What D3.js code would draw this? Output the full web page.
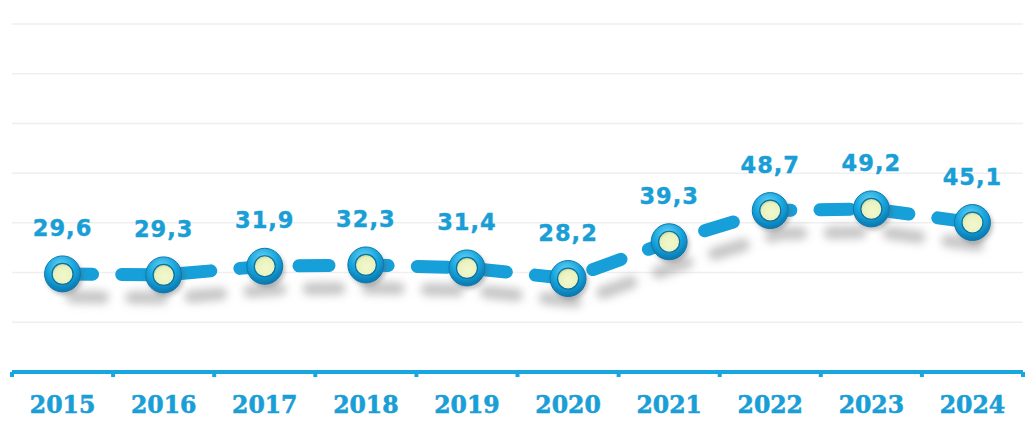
<!DOCTYPE html>
<html>
<head>
<meta charset="utf-8">
<script src="https://cdn.jsdelivr.net/npm/d3@7"></script>
<style>
  html, body { margin: 0; padding: 0; background: #fff; }
  svg { display: block; }
</style>
</head>
<body>
<svg id="chart" width="1036" height="430"></svg>
<script>
const categories = ["2015","2016","2017","2018","2019","2020","2021","2022","2023","2024"];
const values = [29.6, 29.3, 31.9, 32.3, 31.4, 28.2, 39.3, 48.7, 49.2, 45.1];
const valueLabels = ["29,6","29,3","31,9","32,3","31,4","28,2","39,3","48,7","49,2","45,1"];
const gridTicks = [15, 30, 45, 60, 75, 90, 105];

(function () {
const svg = d3.select("#chart");
const padL = 12, padR = 1023, padT = 24, padB = 372;

const x = d3.scaleBand().domain(categories).range([padL, padR]).padding(0);
const y = d3.scaleLinear().domain([0, 105]).range([padB, padT]);
const cx = d => x(d) + x.bandwidth() / 2;

const defs = svg.append("defs");
const sh = defs.append("filter").attr("id", "shadow")
  .attr("x", "-10%").attr("y", "-50%").attr("width", "130%").attr("height", "250%");
sh.append("feGaussianBlur").attr("in", "SourceAlpha").attr("stdDeviation", 4.5).attr("result", "b");
sh.append("feOffset").attr("in", "b").attr("dx", 10).attr("dy", 23).attr("result", "o");
sh.append("feFlood").attr("flood-color", "#8f8f8f").attr("flood-opacity", 0.5).attr("result", "c");
sh.append("feComposite").attr("in", "c").attr("in2", "o").attr("operator", "in").attr("result", "s");
const mg = sh.append("feMerge");
mg.append("feMergeNode").attr("in", "s");
mg.append("feMergeNode").attr("in", "SourceGraphic");

const csh = defs.append("filter").attr("id", "cshadow")
  .attr("x", "-50%").attr("y", "-50%").attr("width", "200%").attr("height", "200%");
csh.append("feDropShadow").attr("dx", 2).attr("dy", 3).attr("stdDeviation", 2)
  .attr("flood-color", "#555").attr("flood-opacity", 0.35);

const rg = defs.append("radialGradient").attr("id", "ring")
  .attr("cx", "45%").attr("cy", "30%").attr("r", "70%");
rg.append("stop").attr("offset", "0%").attr("stop-color", "#6ad4f6");
rg.append("stop").attr("offset", "55%").attr("stop-color", "#18a6de");
rg.append("stop").attr("offset", "100%").attr("stop-color", "#0a76ad");

const ig = defs.append("radialGradient").attr("id", "inner")
  .attr("cx", "55%").attr("cy", "60%").attr("r", "60%");
ig.append("stop").attr("offset", "0%").attr("stop-color", "#f2f8cf");
ig.append("stop").attr("offset", "75%").attr("stop-color", "#e9f2bd");
ig.append("stop").attr("offset", "100%").attr("stop-color", "#c4d69c");

// gridlines
svg.append("g").selectAll("line").data(gridTicks).join("line")
  .attr("x1", padL).attr("x2", padR)
  .attr("y1", d => y(d)).attr("y2", d => y(d))
  .attr("stroke", "#efefef").attr("stroke-width", 1.5);

// x axis
const xAxis = d3.axisBottom(x).tickSize(0).tickFormat(d => d);
const ax = svg.append("g").attr("transform", `translate(0,${padB})`).call(xAxis);
ax.select(".domain").remove();
ax.selectAll("text")
  .attr("dy", null).attr("y", 41)
  .attr("fill", "#1a9ed6")
  .attr("stroke", "#1a9ed6").attr("stroke-width", 0.6)
  .style("font-family", "'DejaVu Serif', serif")
  .style("font-weight", "bold")
  .style("font-size", "23.5px");

svg.append("line").attr("x1", padL).attr("x2", padR)
  .attr("y1", padB).attr("y2", padB)
  .attr("stroke", "#18a6e0").attr("stroke-width", 4);
const bounds = categories.map(c => x(c)).concat([x(categories[categories.length - 1]) + x.bandwidth()]);
svg.append("g").selectAll("line").data(bounds).join("line")
  .attr("x1", d => d).attr("x2", d => d)
  .attr("y1", padB).attr("y2", padB + 5)
  .attr("stroke", "#18a6e0").attr("stroke-width", 4);

// series
const g = svg.append("g");
const line = d3.line().x((d, i) => cx(categories[i])).y(d => y(d));
g.append("path").datum(values)
  .attr("d", line)
  .attr("filter", "url(#shadow)")
  .attr("fill", "none")
  .attr("stroke", "#139fd8")
  .attr("stroke-width", 13)
  .attr("stroke-linecap", "round")
  .attr("stroke-dasharray", "30 29.2");

const pts = g.selectAll("g.pt").data(values).join("g").attr("class", "pt")
  .attr("filter", "url(#cshadow)")
  .attr("transform", (d, i) => `translate(${cx(categories[i])},${y(d)})`);
pts.append("circle").attr("r", 18).attr("fill", "url(#ring)")
  .attr("stroke", "#0b78ad").attr("stroke-width", 1);
pts.append("circle").attr("r", 10.5).attr("fill", "url(#inner)")
  .attr("stroke", "#0a6f9f").attr("stroke-width", 1.2);

// value labels
svg.append("g").selectAll("text").data(values).join("text")
  .attr("x", (d, i) => cx(categories[i]))
  .attr("y", d => y(d) - 38)
  .attr("text-anchor", "middle")
  .attr("fill", "#1a9ed6")
  .attr("stroke", "#1a9ed6").attr("stroke-width", 0.4)
  .style("font-family", "'DejaVu Sans', sans-serif")
  .style("font-weight", "bold")
  .style("font-size", "22.5px")
  .style("letter-spacing", "1px")
  .text((d, i) => valueLabels[i]);
})();
</script>
</body>
</html>
